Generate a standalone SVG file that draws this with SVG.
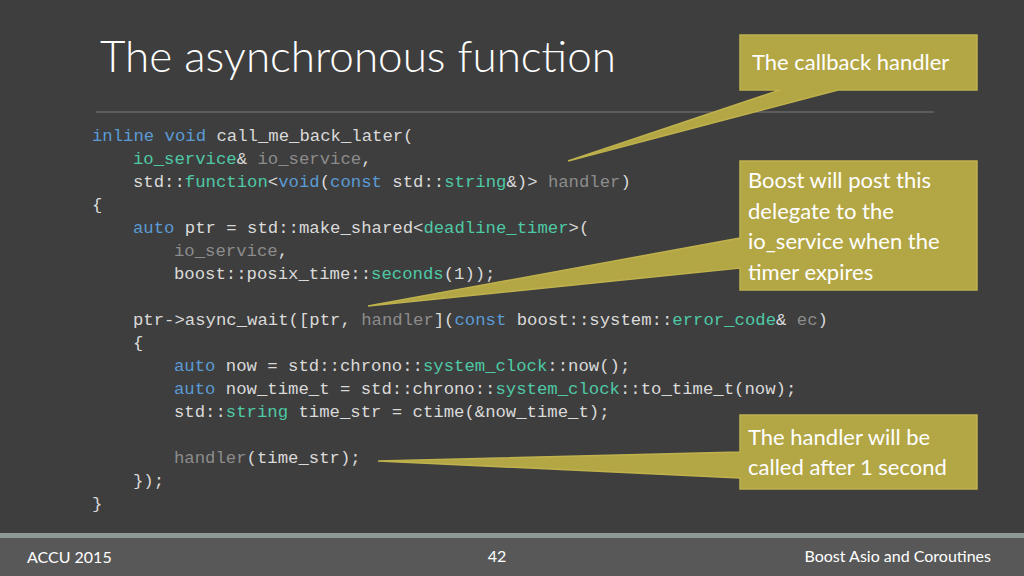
<svg xmlns="http://www.w3.org/2000/svg" width="1024" height="576" viewBox="0 0 1024 576">
<style>
.c{font-family:"Liberation Mono","DejaVu Sans Mono",monospace;font-size:17.3px;fill:#dadada;white-space:pre}
.k{fill:#5a9bd5}.t{fill:#4ec9a6}.g{fill:#8c8c8c}
.call{fill:#b3a645;stroke:#bfb24d;stroke-width:1.5}
.ct{font-family:Lato,"Open Sans",sans-serif;font-size:22px;fill:#ffffff}
.f{font-family:Lato,"Open Sans",sans-serif;font-size:16px;fill:#ffffff}
</style>
<rect width="1024" height="576" fill="#3e3e3e"/>
<rect y="533" width="1024" height="5" fill="#8e9a94"/>
<rect y="538" width="1024" height="38" fill="#585858"/>
<text x="100" y="72" font-family="Lato,'Open Sans',sans-serif" font-weight="300" font-size="44" fill="#ffffff">The asynchronous function</text>
<line x1="96" y1="112" x2="934" y2="112" stroke="#7a7a7a" stroke-width="1.2"/>
<g id="code">
<text class="c" x="92" y="141"><tspan class="k">inline void</tspan> call_me_back_later(</text>
<text class="c" x="133" y="164"><tspan class="t">io_service</tspan>&amp; <tspan class="g">io_service</tspan>,</text>
<text class="c" x="133" y="187">std::<tspan class="t">function</tspan>&lt;<tspan class="k">void</tspan>(<tspan class="k">const</tspan> std::<tspan class="t">string</tspan>&amp;)&gt; <tspan class="g">handler</tspan>)</text>
<text class="c" x="92" y="210">{</text>
<text class="c" x="133" y="233"><tspan class="k">auto</tspan> ptr = std::make_shared&lt;<tspan class="t">deadline_timer</tspan>&gt;(</text>
<text class="c" x="174" y="256"><tspan class="g">io_service</tspan>,</text>
<text class="c" x="174" y="279">boost::posix_time::<tspan class="t">seconds</tspan>(1));</text>
<text class="c" x="133" y="325">ptr-&gt;async_wait([ptr, <tspan class="g">handler</tspan>](<tspan class="k">const</tspan> boost::system::<tspan class="t">error_code</tspan>&amp; <tspan class="g">ec</tspan>)</text>
<text class="c" x="133" y="348">{</text>
<text class="c" x="174" y="371"><tspan class="k">auto</tspan> now = std::chrono::<tspan class="t">system_clock</tspan>::now();</text>
<text class="c" x="174" y="394"><tspan class="k">auto</tspan> now_time_t = std::chrono::<tspan class="t">system_clock</tspan>::to_time_t(now);</text>
<text class="c" x="174" y="417">std::<tspan class="t">string</tspan> time_str = ctime(&amp;now_time_t);</text>
<text class="c" x="174" y="463"><tspan class="g">handler</tspan>(time_str);</text>
<text class="c" x="133" y="486">});</text>
<text class="c" x="92" y="509">}</text>
</g>
<g id="callout1">
<path class="call" d="M740,35 H977 V90 H838 L568,161 L780,90 H740 Z"/>
<text class="ct" x="752" y="70">The callback handler</text>
</g>
<g id="callout2">
<path class="call" d="M740,161 H977 V290 H740 V268 L368,306 L740,238 Z"/>
<text class="ct" x="748" y="188">Boost will post this</text>
<text class="ct" x="748" y="219">delegate to the</text>
<text class="ct" x="748" y="249">io_service when the</text>
<text class="ct" x="748" y="280">timer expires</text>
</g>
<g id="callout3">
<path class="call" d="M740,415 H977 V489 H740 V478 L378,461 L740,452 Z"/>
<text class="ct" x="748" y="445">The handler will be</text>
<text class="ct" x="748" y="475">called after 1 second</text>
</g>
<g id="footer">
<text class="f" x="27" y="563">ACCU 2015</text>
<text class="f" x="497" y="562" text-anchor="middle">42</text>
<text class="f" x="991" y="562" text-anchor="end">Boost Asio and Coroutines</text>
</g>
</svg>
